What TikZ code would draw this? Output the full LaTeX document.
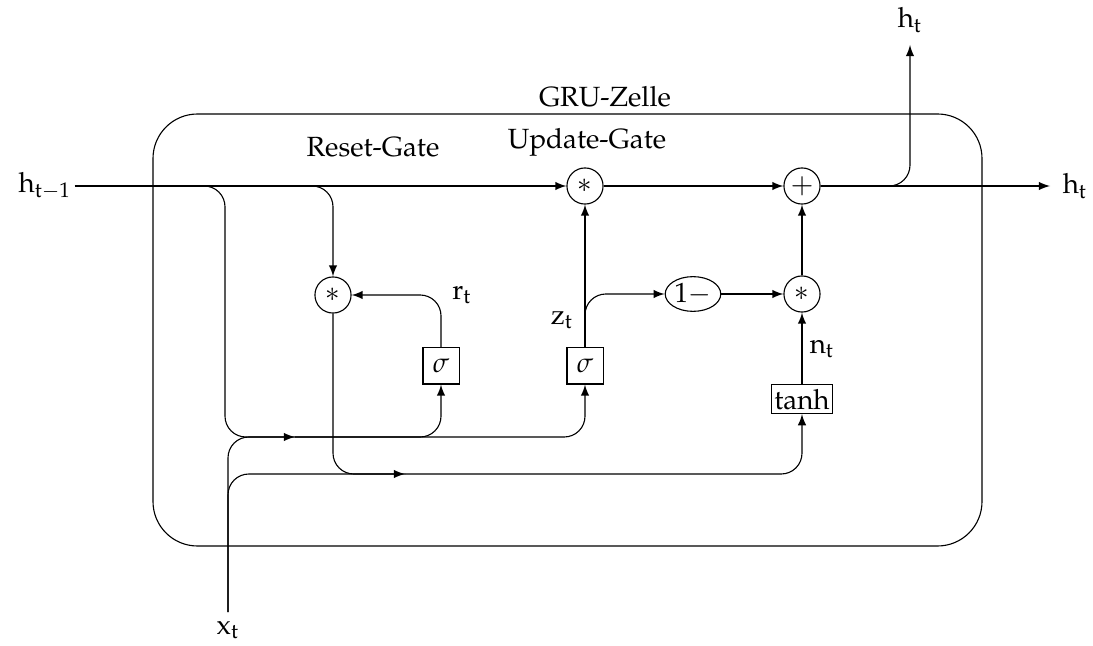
\documentclass[tikz,border=0pt]{standalone}
\IfFileExists{mathpazo.sty}{\usepackage[T1]{fontenc}\usepackage{mathpazo}}{\usepackage{fontspec}\setmainfont{Liberation Serif}}
\usetikzlibrary{arrows,shapes.geometric}
\newcommand{\vv}[1]{\mathrm{#1}}
\begin{document}
\begin{tikzpicture}[x=0.36pt,y=-0.36pt,
  >=latex,
  conn/.style={line width=0.4pt},
  rc/.style={rounded corners=7.5pt},
  opcirc/.style={draw,circle,minimum size=13pt,inner sep=0pt,line width=0.4pt},
  sigbox/.style={draw,rectangle,minimum size=13pt,inner sep=0pt,line width=0.4pt},
  tanhbox/.style={draw,rectangle,inner xsep=1pt,inner ysep=0pt,minimum height=10.5pt,line width=0.4pt},
  onebox/.style={draw,ellipse,minimum width=20pt,minimum height=12.5pt,inner sep=0pt,line width=0.4pt},
  lbl/.style={inner sep=1pt}
]
\useasboundingbox (0,0) rectangle (1093,646);
% cell
\draw[line width=0.4pt,rounded corners=16pt] (153,114) rectangle (982,546);
\node (gru) at (605,97) {GRU-Zelle};
\node (rg) at (373,147) {Reset-Gate};
\node (ug) at (587,142) {Update-Gate};
% nodes
\node[lbl] (hin) at (45,186) {$\vv{h}_{\vv{t}-1}$};
\node[opcirc] (star1) at (585,186) {$\ast$};
\node[opcirc] (plus) at (802,186) {$+$};
\node[opcirc] (star2) at (333,295) {$\ast$};
\node[opcirc] (star3) at (802,294) {$\ast$};
\node[sigbox] (sigr) at (441,366) {$\sigma$};
\node[sigbox] (sigz) at (585,366) {$\sigma$};
\node[onebox] (onem) at (693,294) {$1-$};
\node[tanhbox] (tanh) at (802,399) {tanh};
\node[lbl] (xt) at (228,630) {$\vv{x}_\vv{t}$};
\node[lbl] (hout1) at (1075,186) {$\vv{h}_\vv{t}$};
\node[lbl] (hout2) at (910,20) {$\vv{h}_\vv{t}$};
\node[lbl] (rt) at (462,295) {$\vv{r}_\vv{t}$};
\node[lbl] (zt) at (562,320) {$\vv{z}_\vv{t}$};
\node[lbl] (nt) at (822,349) {$\vv{n}_\vv{t}$};
% coordinates
\coordinate (b1) at (153,186);
\coordinate (b2) at (260,186);
\coordinate (m1) at (295,437);
\coordinate (m2) at (405,474);
\coordinate (xb) at (228,612);
\coordinate (ho1) at (1050,186);
\coordinate (ho2) at (910,45);
% connectors
\draw[conn,->] (hin) -- (star1);
\draw[conn,->,rc] (b2) -| (star2.north);
\draw[conn,->,rc] (b1) -| (225,437) -- (m1);
\draw[conn,rc] (xb) |- (m1);
\draw[conn,rc] (xb) |- (m2);
\draw[conn,->,rc] (m1) -| (sigr.south);
\draw[conn,->,rc] (m1) -| (sigz.south);
\draw[conn,->,rc] (star2.south) |- (m2);
\draw[conn,->,rc] (m2) -| (tanh.south);
\draw[conn,->,rc] (sigr.north) |- (star2.east);
\draw[conn,->] (sigz.north) -- (star1.south);
\draw[conn,->,rc] (sigz.north) |- (onem.west);
\draw[conn,->] (onem) -- (star3);
\draw[conn,->] (tanh) -- (star3);
\draw[conn,->] (star3) -- (plus);
\draw[conn,->] (star1) -- (plus);
\draw[conn,->] (plus) -- (ho1);
\draw[conn,->,rc] (plus.east) -| (ho2);
\end{tikzpicture}
\end{document}
